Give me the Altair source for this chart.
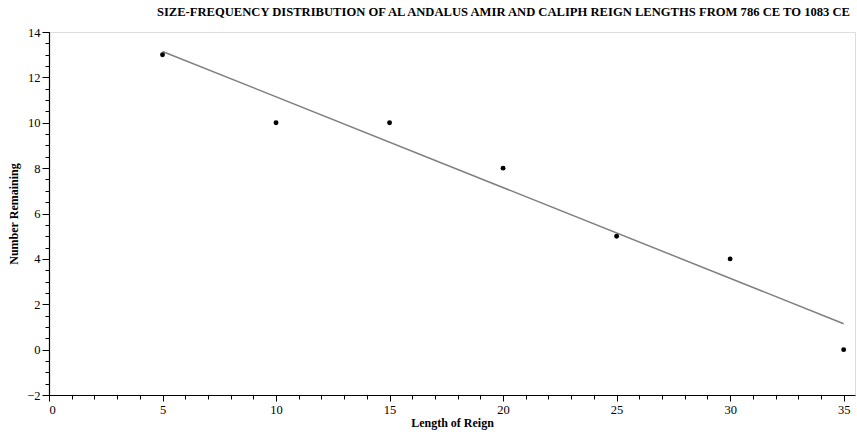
import altair as alt
import pandas as pd

reign = [5, 10, 15, 20, 25, 30, 35]
remaining = [13, 10, 10, 8, 5, 4, 0]

x_major = [0, 5, 10, 15, 20, 25, 30, 35]
x_minor = [0, 1, 2, 3, 4, 5, 6, 7, 8, 9, 10, 11, 12, 13, 14, 15, 16, 17, 18,
           19, 20, 21, 22, 23, 24, 25, 26, 27, 28, 29, 30, 31, 32, 33, 34, 35]
y_major = [-2, 0, 2, 4, 6, 8, 10, 12, 14]
y_minor = [-2, -1.5, -1, -0.5, 0, 0.5, 1, 1.5, 2, 2.5, 3, 3.5, 4, 4.5, 5, 5.5,
           6, 6.5, 7, 7.5, 8, 8.5, 9, 9.5, 10, 10.5, 11, 11.5, 12, 12.5, 13,
           13.5, 14]

title_text = ("SIZE-FREQUENCY DISTRIBUTION OF AL ANDALUS AMIR AND CALIPH "
              "REIGN LENGTHS FROM 786 CE TO 1083 CE")

df = pd.DataFrame({"reign": reign, "remaining": remaining})

FONT = "Liberation Serif"
xscale = alt.Scale(domain=[0, 35.5], nice=False, zero=False)
yscale = alt.Scale(domain=[-2, 14], nice=False, zero=False)

base = alt.Chart(df)

line = base.transform_regression("reign", "remaining").mark_line(
    color="#7f7f7f", strokeWidth=1.5
).encode(
    x=alt.X("reign:Q", scale=xscale,
            axis=alt.Axis(values=x_minor, labels=False, tickSize=4, domain=False,
                          title=None, orient="bottom", grid=False,
                          tickColor="black", tickWidth=1)),
    y=alt.Y("remaining:Q", scale=yscale,
            axis=alt.Axis(values=y_minor, labels=False, tickSize=4, domain=False,
                          title=None, orient="left", grid=False,
                          tickColor="black", tickWidth=1)),
)

points = base.mark_circle(size=24, color="black", opacity=1).encode(
    x=alt.X("reign:Q", scale=xscale,
            axis=alt.Axis(values=x_major, tickSize=6, title="Length of Reign",
                          orient="bottom", grid=False, domainColor="black",
                          tickColor="black", tickWidth=1, domainWidth=1.2,
                          labelFont=FONT, labelFontSize=12.5, labelColor="black",
                          labelPadding=2,
                          titleFont=FONT, titleFontSize=12, titleFontWeight="bold",
                          titleColor="black", titlePadding=2)),
    y=alt.Y("remaining:Q", scale=yscale,
            axis=alt.Axis(values=y_major, tickSize=7, title="Number Remaining",
                          orient="left", grid=False, domainColor="black",
                          tickColor="black", tickWidth=1, domainWidth=1.2,
                          labelFont=FONT, labelFontSize=12.5, labelColor="black",
                          labelPadding=2,
                          titleFont=FONT, titleFontSize=12, titleFontWeight="bold",
                          titleColor="black", titlePadding=6)),
)

chart = alt.layer(line, points).resolve_axis(
    x="independent", y="independent"
).properties(
    width=806,
    height=363,
    title=alt.TitleParams(title_text, anchor="end", font=FONT, fontSize=12.6,
                          fontWeight="bold", color="black", offset=7, dx=-5),
    autosize=alt.AutoSizeParams(type="none"),
    padding={"left": 49, "top": 32, "right": 2, "bottom": 42},
).configure_view(stroke=None).configure(background="white")

chart.save("out.html", embed_options={"renderer": "svg", "actions": False})
